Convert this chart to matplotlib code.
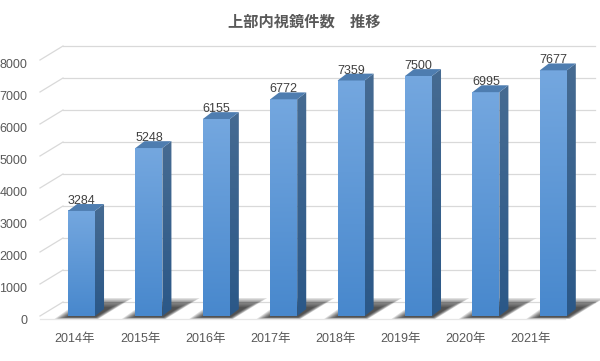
import numpy as np
import matplotlib
matplotlib.use("Agg")
import matplotlib.pyplot as plt
import matplotlib.transforms as mtransforms
from matplotlib.patches import Polygon

plt.rcParams['font.family'] = ['Liberation Sans', 'Noto Sans CJK JP']

years = ["2014年", "2015年", "2016年", "2017年", "2018年", "2019年", "2020年", "2021年"]
counts = [3284, 5248, 6155, 6772, 7359, 7500, 6995, 7677]
y_ticks = [0, 1000, 2000, 3000, 4000, 5000, 6000, 7000, 8000]
title = "上部内視鏡件数　推移"

# pseudo 3d geometry (category units / value units)
bar_w = 0.40
wall_dx, wall_dy = 0.341, 437.0   # depth of the back wall
bar_dx, bar_dy = 0.134, 215.0     # depth of each bar
x_left = -0.616
x_right_front = 7.17
x_right_back = 7.62

grid_c = "#D9D9D9"
front_top = np.array([0x74, 0xA7, 0xDF]) / 255
front_bot = np.array([0x48, 0x88, 0xCD]) / 255
side_top = np.array([0x46, 0x6B, 0x92]) / 255
side_bot = np.array([0x2B, 0x58, 0x88]) / 255
top_c = "#4E7DB0"

fig = plt.figure(figsize=(6, 3.61), dpi=100)
ax = fig.add_axes([40 / 600, 45 / 361, 560 / 600, 256 / 361])
ax.set_xlim(x_left, 7.693)
ax.set_ylim(0, 8000)
for s in ax.spines.values():
    s.set_visible(False)

# walls: back gridlines and left-wall diagonals
for v in y_ticks:
    ax.plot([x_left + wall_dx, x_right_back], [v + wall_dy, v + wall_dy],
            color=grid_c, lw=0.9, clip_on=False, zorder=0)
    ax.plot([x_left, x_left + wall_dx], [v, v + wall_dy],
            color=grid_c, lw=0.9, clip_on=False, zorder=0)
ax.plot([x_left, x_right_front], [-80, -80], color="#E6E6E6", lw=0.9,
        clip_on=False, zorder=0)

# shadows on the floor (layered to look blurred)
for i, v in enumerate(counts):
    l = i - bar_w / 2
    r = i + bar_w / 2
    for k in range(8):
        g = k / 7.0
        pts = [(l - 0.20 + 0.17 * g, -90 + 50 * g),
               (r + 0.05 - 0.04 * g, -90 + 50 * g),
               (r + bar_dx + 0.42 - 0.30 * g, 560 - 280 * g),
               (l + 0.24 + 0.02 * g, 560 - 280 * g)]
        ax.add_patch(Polygon(pts, closed=True, facecolor="black",
                             edgecolor="none", alpha=0.13, clip_on=False,
                             zorder=1))

# bars
n = 64
for i, v in enumerate(counts):
    l = i - bar_w / 2
    r = i + bar_w / 2
    t = np.linspace(0, 1, n)[:, None]
    front = front_top * (1 - t) + front_bot * t
    side = side_top * (1 - t) + side_bot * t
    ax.imshow(front[:, None, :], extent=[l, r, 0, v], aspect='auto',
              zorder=3, interpolation='bilinear')
    im = ax.imshow(side[:, None, :], extent=[r, r + bar_dx, 0, v + bar_dy],
                   aspect='auto', zorder=3, interpolation='bilinear')
    clip = Polygon([(r, 0), (r + bar_dx, bar_dy), (r + bar_dx, v + bar_dy),
                    (r, v)], closed=True, transform=ax.transData)
    im.set_clip_path(clip)
    ax.add_patch(Polygon([(l, v), (r, v), (r + bar_dx, v + bar_dy),
                          (l + bar_dx, v + bar_dy)], closed=True,
                         facecolor=top_c, edgecolor="none", zorder=4))
    ax.text(i, v + 120, str(v), ha='center', va='bottom', fontsize=9,
            color="#404040", zorder=5)

ax.set_xlim(x_left, 7.693)
ax.set_ylim(0, 8000)

ax.set_yticks(y_ticks)
ax.set_yticklabels([str(v) for v in y_ticks])
# category labels sit on the front edge of the floor
label_pos = [-0.096 + 0.966 * i for i in range(len(years))]
ax.set_xticks(label_pos)
ax.set_xticklabels(years)
ax.tick_params(axis='both', length=0, labelsize=9, colors="#595959")
ax.tick_params(axis='y', pad=9)
ax.tick_params(axis='x', pad=12)
shift = mtransforms.ScaledTranslation(0, -3 / 100, fig.dpi_scale_trans)
for lab in ax.get_yticklabels():
    lab.set_transform(lab.get_transform() + shift)

fig.text(0.507, 0.94, title, ha='center', va='center', fontsize=11,
         fontweight='bold', color="#595959",
         family=['Noto Sans CJK JP', 'DejaVu Sans'])

fig.savefig("out.png", dpi=100)
